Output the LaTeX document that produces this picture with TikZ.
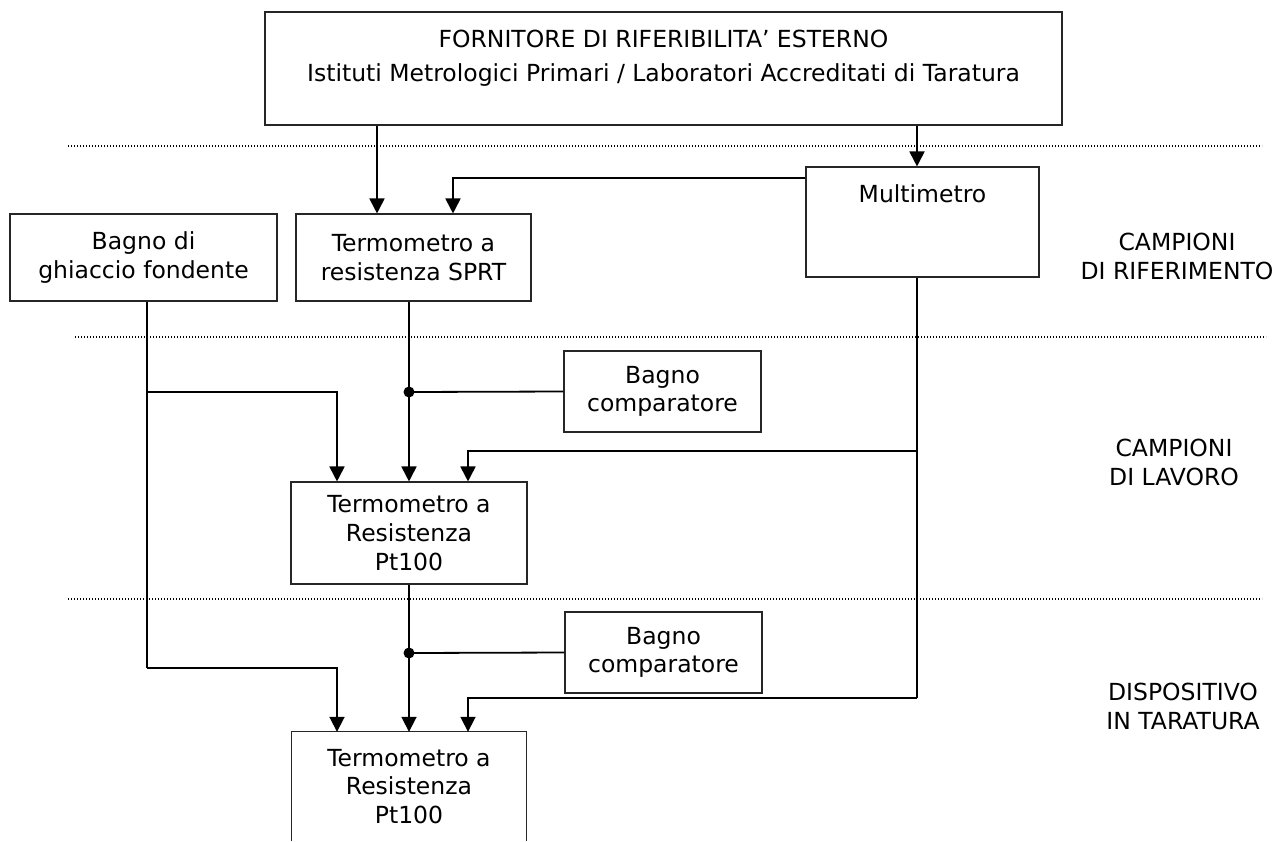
\documentclass[tikz,border=0pt]{standalone}
\usepackage{fontspec}
\setmainfont{DejaVu Sans}
\usetikzlibrary{arrows.meta}
\begin{document}
\begin{tikzpicture}[x=1pt,y=-1pt,
  font=\fontsize{23.5}{28.7}\selectfont,
  box/.style={draw=black!85, line width=1.1pt, inner sep=0pt, align=center},
  txt/.style={inner sep=0pt, align=center},
  conn/.style={line width=1.8pt},
  arr/.style={conn, -{Triangle[length=15pt,width=15pt]}},
  sep/.style={line width=1.4pt, dash pattern=on 1.3pt off 1.7pt},
  dot/.style={circle, fill=black, inner sep=0pt, minimum size=11pt}]
\useasboundingbox (0,0) rectangle (1279,841);

% separators
\draw[sep] (68,146) -- (1262,146);
\draw[sep] (75,337) -- (1266,337);
\draw[sep] (68,599) -- (1262,599);

% boxes
\node[box, minimum width=797pt, minimum height=113pt] (top) at (663.5,68.5) {};
\node[txt, anchor=north] (toptxt) at (663.5,30) {FORNITORE DI RIFERIBILITA’ ESTERNO\\[5pt]Istituti Metrologici Primari / Laboratori Accreditati di Taratura};

\node[box, minimum width=233pt, minimum height=110pt] (multi) at (922.5,222) {};
\node[txt, anchor=base] (multitxt) at (922.5,202) {Multimetro};

\node[box, minimum width=267pt, minimum height=87pt] (ghi) at (143.5,257.5) {Bagno di\\ghiaccio fondente};
\node[box, minimum width=235pt, minimum height=87pt] (sprt) at (413.5,257.5) {Termometro a\\resistenza SPRT};
\node[box, minimum width=197pt, minimum height=81pt] (bagA) at (662.5,391.5) {Bagno\\comparatore};
\node[box, minimum width=236pt, minimum height=102pt] (ptA) at (409,533) {Termometro a\\Resistenza\\Pt100};
\node[box, minimum width=197pt, minimum height=81pt] (bagB) at (663.5,652.5) {Bagno\\comparatore};
\node[txt, minimum width=234pt, minimum height=109pt] (ptB) at (409,786.5) {Termometro a\\Resistenza\\Pt100};
\draw[draw=black!85, line width=1.1pt] (ptB.south west) -- (ptB.north west) -- (ptB.north east) -- (ptB.south east);

% side labels
\node[txt, anchor=north] (l1) at (1177,233) {CAMPIONI\\DI RIFERIMENTO};
\node[txt, anchor=north] (l2) at (1174,439) {CAMPIONI\\DI LAVORO};
\node[txt, anchor=north] (l3) at (1183,683) {DISPOSITIVO\\IN TARATURA};

% helper coordinates
\coordinate (xa) at (377,0);
\coordinate (xm) at (917,0);
\coordinate (xs) at (453,0);
\coordinate (xg) at (337,0);
\coordinate (xr) at (468,0);
\coordinate (ys) at (0,178);
\coordinate (gA) at (147,392);
\coordinate (gB) at (147,668);
\coordinate (d1) at (409,392);
\coordinate (d2) at (409,653);
\coordinate (mA) at (917,451);
\coordinate (mB) at (917,698);

% connectors
\draw[arr] (top.south -| xa) -- (sprt.north -| xa);
\draw[arr] (top.south -| xm) -- (multi.north -| xm);
\draw[arr] (multi.west |- ys) -| (sprt.north -| xs);

\draw[conn] (ghi.south -| gA) -- (gB);
\draw[arr] (gA) -| (ptA.north -| xg);
\draw[arr] (gB) -| (ptB.north -| xg);

\draw[arr] (sprt.south -| d1) -- (ptA.north -| d1);
\draw[conn] (bagA.west) -- (d1);
\node[dot] (dot1) at (d1) {};

\draw[arr] (ptA.south -| d2) -- (ptB.north -| d2);
\draw[conn] (bagB.west) -- (d2);
\node[dot] (dot2) at (d2) {};

\draw[conn] (multi.south -| mA) -- (mB);
\draw[arr] (mA) -| (ptA.north -| xr);
\draw[arr] (mB) -| (ptB.north -| xr);
\end{tikzpicture}
\end{document}
